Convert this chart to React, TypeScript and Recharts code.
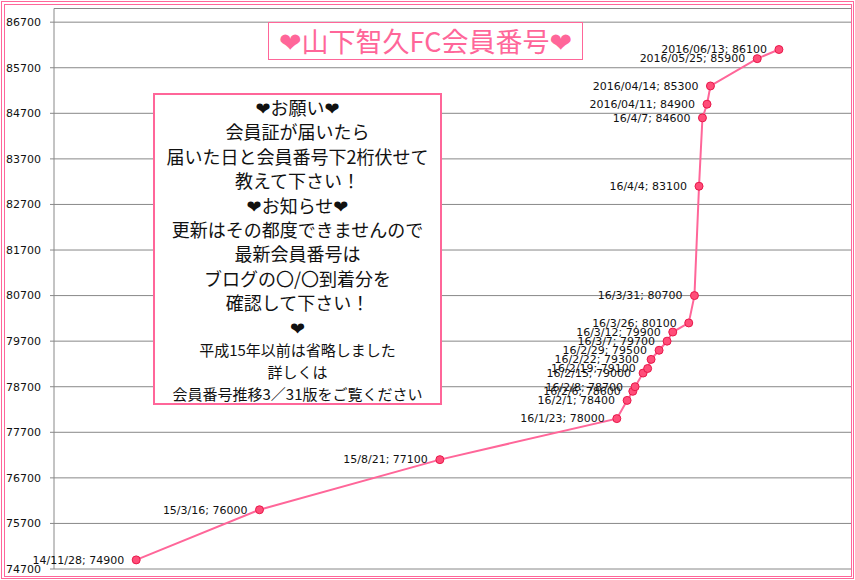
import React from "react";
import { LineChart, Line, XAxis, YAxis, CartesianGrid, LabelList } from "recharts";

const dates = [
  "2014/11/28", "2015/03/16", "2015/08/21", "2016/01/23", "2016/02/01", "2016/02/06",
  "2016/02/08", "2016/02/15", "2016/02/19", "2016/02/22", "2016/02/29", "2016/03/07",
  "2016/03/12", "2016/03/26", "2016/03/31", "2016/04/04", "2016/04/07", "2016/04/11",
  "2016/04/14", "2016/05/25", "2016/06/13",
];
const dateLabels = [
  "14/11/28", "15/3/16", "15/8/21", "16/1/23", "16/2/1", "16/2/6",
  "16/2/8", "16/2/15", "16/2/19", "16/2/22", "16/2/29", "16/3/7",
  "16/3/12", "16/3/26", "16/3/31", "16/4/4", "16/4/7", "2016/04/11",
  "2016/04/14", "2016/05/25", "2016/06/13",
];
const memberNumbers = [
  74900, 76000, 77100, 78000, 78400, 78600,
  78700, 79000, 79100, 79300, 79500, 79700,
  79900, 80100, 80700, 83100, 84600, 84900,
  85300, 85900, 86100,
];
const yTicks = [74700, 75700, 76700, 77700, 78700, 79700, 80700, 81700, 82700, 83700, 84700, 85700, 86700];
const yDomain = [74700, 87000];
const xDomainDates = ["2014/09/17", "2016/08/16"];

const titleText = "❤山下智久FC会員番号❤";
const noteLines = [
  "❤お願い❤",
  "会員証が届いたら",
  "届いた日と会員番号下2桁伏せて",
  "教えて下さい！",
  "❤お知らせ❤",
  "更新はその都度できませんので",
  "最新会員番号は",
  "ブログの〇/〇到着分を",
  "確認して下さい！",
  "❤",
];
const noteSmallLines = [
  "平成15年以前は省略しました",
  "詳しくは",
  "会員番号推移3／31版をご覧ください",
];

const toDay = (s: string) => {
  const [y, m, d] = s.split("/").map(Number);
  return Date.UTC(y, m - 1, d) / 86400000;
};

const data = dates.map((d, i) => ({
  day: toDay(d),
  value: memberNumbers[i],
  label: `${dateLabels[i]}; ${memberNumbers[i]}`,
}));

const PINK = "#ff6699";
const FONT = "'DejaVu Sans', sans-serif";
const JFONT = "'Noto Sans CJK JP', 'DejaVu Sans', sans-serif";

const renderLabel = (props: any) => {
  const { x, y, value } = props;
  return (
    <text
      x={Number(x) - 12}
      y={Number(y)}
      dy="0.35em"
      textAnchor="end"
      fontSize={11}
      fontFamily={FONT}
      fill="#111"
    >
      {value}
    </text>
  );
};

export default function App() {
  return (
    <div style={{ position: "relative", width: 855, height: 580, background: "#fff", overflow: "hidden" }}>
      <style>{"body{margin:0;background:#fff;}"}</style>
      <LineChart
        width={855}
        height={580}
        data={data}
        margin={{ top: 8.5, right: 3, bottom: 11, left: 0 }}
      >
        <CartesianGrid horizontal={true} vertical={false} stroke="#888" strokeWidth={1} />
        <XAxis
          dataKey="day"
          type="number"
          domain={[toDay(xDomainDates[0]), toDay(xDomainDates[1])]}
          hide
        />
        <YAxis
          type="number"
          domain={yDomain}
          ticks={yTicks}
          allowDataOverflow
          width={54}
          tickSize={4}
          tickMargin={9}
          axisLine={{ stroke: "#888" }}
          tickLine={{ stroke: "#888" }}
          tick={{ fill: "#111", fontSize: 11, fontFamily: FONT }}
        />
        <Line
          type="linear"
          dataKey="value"
          stroke={PINK}
          strokeWidth={2}
          dot={{ r: 4, fill: "#ff4d79", stroke: "#e8184a", strokeWidth: 1 }}
          activeDot={false}
          isAnimationActive={false}
        >
          <LabelList dataKey="label" content={renderLabel} />
        </Line>
      </LineChart>

      {/* Chart title */}
      <div
        style={{
          position: "absolute",
          left: 268,
          top: 22,
          width: 315,
          height: 38,
          boxSizing: "border-box",
          border: `1px solid ${PINK}`,
          background: "#fff",
          color: PINK,
          fontFamily: JFONT,
          fontSize: 27,
          lineHeight: "36px",
          textAlign: "center",
          whiteSpace: "nowrap",
        }}
      >
        {titleText}
      </div>

      {/* Note box */}
      <div
        style={{
          position: "absolute",
          left: 153,
          top: 93,
          width: 289,
          height: 312,
          boxSizing: "border-box",
          border: `2px solid ${PINK}`,
          background: "#fff",
          color: "#111",
          fontFamily: JFONT,
          textAlign: "center",
          whiteSpace: "nowrap",
        }}
      >
        {noteLines.map((t, i) => (
          <div key={"n" + i} style={{ fontSize: 18, lineHeight: "24.4px", height: 24.4 }}>
            {t}
          </div>
        ))}
        {noteSmallLines.map((t, i) => (
          <div key={"s" + i} style={{ fontSize: 15, lineHeight: "22px", height: 22 }}>
            {t}
          </div>
        ))}
      </div>

      {/* Double outer border */}
      <div
        style={{
          position: "absolute",
          left: 1,
          top: 1,
          width: 853,
          height: 578,
          boxSizing: "border-box",
          border: `1px solid ${PINK}`,
          pointerEvents: "none",
        }}
      />
      <div
        style={{
          position: "absolute",
          left: 4,
          top: 4,
          width: 848,
          height: 573,
          boxSizing: "border-box",
          border: `1px solid ${PINK}`,
          pointerEvents: "none",
        }}
      />
    </div>
  );
}
